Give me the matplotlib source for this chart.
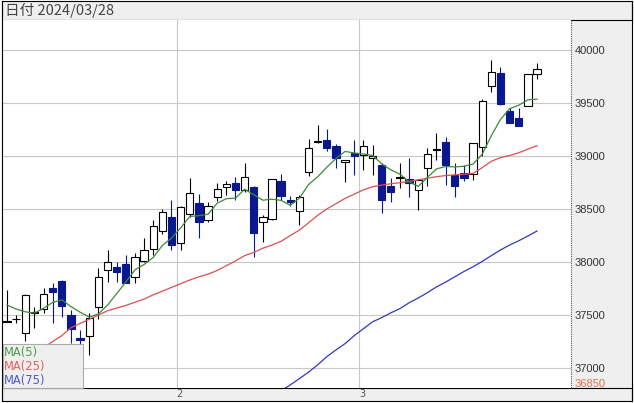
import numpy as np
import matplotlib.pyplot as plt
from matplotlib.patches import Rectangle
from matplotlib.lines import Line2D

# candle data, 2024/01/04 .. 2024/03/28
opens = [37435, 37458, 37333, 37522, 37554, 37752, 37824, 37500, 37283, 37302,
         37578, 37925, 37956, 37978, 37862, 38009, 38123, 38296, 38428, 38183,
         38453, 38554, 38396, 38616, 38710, 38748, 38679, 38705, 38375, 38403,
         38764, 38585, 38484, 38852, 39135, 39151, 39094, 38941, 39025, 39010,
         38984, 38915, 38720, 38792, 38779, 38679, 38890, 39055, 39129, 38820,
         38837, 38830, 39088, 39664, 39786, 39424, 39356, 39472, 39771]
highs = [37735, 37500, 37700, 37578, 37752, 37799, 37830, 37547, 37358, 37516,
         37941, 38113, 38003, 38066, 38082, 38224, 38396, 38500, 38585, 38530,
         38790, 38639, 38569, 38748, 38764, 38805, 38931, 38720, 38440, 38785,
         38830, 38623, 38630, 39158, 39292, 39252, 39110, 38965, 39151, 39151,
         39104, 38935, 38790, 38931, 38978, 38780, 39073, 39214, 39182, 38931,
         38915, 39125, 39535, 39906, 39843, 39456, 39450, 39774, 39880]
lows = [37430, 37420, 37250, 37377, 37518, 37421, 37478, 37233, 37120, 37123,
        37459, 37814, 37814, 37805, 37799, 38000, 38066, 38264, 38113, 38113,
        38420, 38224, 38380, 38578, 38632, 38585, 38660, 38050, 38192, 38400,
        38585, 38528, 38349, 38811, 39120, 39045, 38884, 38752, 38821, 38868,
        38821, 38459, 38569, 38695, 38616, 38490, 38717, 38962, 38726, 38616,
        38760, 38774, 39000, 39607, 39480, 39314, 39286, 39472, 39724]
closes = [37440, 37465, 37689, 37530, 37698, 37714, 37588, 37365, 37264, 37469,
          37862, 38003, 37909, 37805, 38050, 38113, 38340, 38469, 38160, 38522,
          38654, 38381, 38532, 38686, 38733, 38679, 38798, 38277, 38428, 38779,
          38623, 38566, 38616, 39073, 39142, 39073, 38978, 38962, 39000, 39094,
          39003, 38585, 38664, 38798, 38742, 38774, 39016, 39065, 38915, 38720,
          38790, 39120, 39519, 39790, 39488, 39314, 39286, 39774, 39818]

ma5 = [37594, 37556, 37530, 37518, 37563, 37618, 37643, 37579, 37526, 37480,
       37510, 37593, 37701, 37810, 37926, 37976, 38043, 38155, 38226, 38321,
       38429, 38437, 38450, 38555, 38597, 38602, 38686, 38635, 38583, 38592,
       38581, 38535, 38602, 38731, 38804, 38894, 38976, 39043, 39028, 39019,
       39005, 38926, 38869, 38828, 38758, 38712, 38798, 38878, 38901, 38897,
       38903, 38924, 39016, 39191, 39344, 39446, 39479, 39530, 39536]
ma25 = [36980, 37040, 37090, 37140, 37190, 37250, 37305, 37380, 37420, 37460,
        37500, 37540, 37565, 37590, 37620, 37650, 37690, 37725, 37760, 37795,
        37830, 37860, 37885, 37920, 37965, 38010, 38060, 38090, 38130, 38160,
        38195, 38250, 38300, 38370, 38440, 38500, 38550, 38600, 38640, 38680,
        38710, 38725, 38738, 38748, 38760, 38775, 38790, 38805, 38815, 38822,
        38828, 38835, 38890, 38950, 38985, 39005, 39030, 39065, 39097]
ma75 = [np.nan] * 28 + [
        36650, 36720, 36785, 36840, 36900, 36960, 37030, 37107, 37170, 37230,
        37305, 37370, 37435, 37475, 37520, 37560, 37615, 37660, 37710, 37765,
        37810, 37860, 37910, 37955, 38005, 38060, 38113, 38160, 38200, 38245,
        38292]

month_start = [19, 39]
month_labels = ['2', '3']
price_ticks = [37000, 37500, 38000, 38500, 39000, 39500, 40000]
low_mark = 36850
date_text = '日付 2024/03/28'

W, H = 634, 403
def fx(px):
    return px / W
def fy(py):
    return 1 - py / H

fig = plt.figure(figsize=(W / 100, H / 100), dpi=100)
ax = fig.add_axes([fx(3), fy(388), fx(571) - fx(3), fy(20) - fy(388)])

n = len(closes)
x = np.arange(n)
o = np.array(opens); c = np.array(closes)
h = np.array(highs); l = np.array(lows)
up = c >= o
navy = '#0a1890'

# grid
for p in price_ticks:
    ax.axhline(p, color='#c8c8c8', lw=0.8, zorder=0)
for m in month_start:
    ax.axvline(m - 0.45, color='#c8c8c8', lw=0.8, zorder=0)

# wicks
ax.vlines(x[up], l[up], h[up], color='black', lw=0.8, zorder=2)
ax.vlines(x[~up], l[~up], h[~up], color=navy, lw=0.8, zorder=2)
# bodies
bw = 0.8
body = np.abs(c - o)
bottom = np.minimum(c, o)
ax.bar(x[up], body[up], bw, bottom=bottom[up], facecolor='white',
       edgecolor='black', lw=0.8, zorder=3)
ax.bar(x[~up], body[~up], bw, bottom=bottom[~up], facecolor=navy,
       edgecolor=navy, lw=0.8, zorder=3)

# moving averages
ax.plot(x, ma25, color='#dc5050', lw=0.9, zorder=4)
ax.plot(x, ma75, color='#3038c0', lw=0.9, zorder=4)
ax.plot(x, ma5, color='#3c8a3c', lw=0.9, zorder=4)

ax.set_xlim(-0.438, 61.72)
ax.set_ylim(36811, 40283)
ax.set_xticks([])
ax.yaxis.tick_right()
ax.set_yticks(price_ticks)
ax.set_yticklabels([str(p) for p in price_ticks])
ax.tick_params(axis='y', length=0, pad=2.5, labelsize=8, labelcolor='#333333')
for t in ax.get_yticklabels():
    t.set_fontfamily('Liberation Sans')
for s in ax.spines.values():
    s.set_visible(False)
ax.annotate(str(low_mark), xy=(1.0, low_mark), xycoords=ax.get_yaxis_transform(),
            xytext=(2.5, 0), textcoords='offset points', ha='left', va='center',
            fontsize=8, color='#e07050', family='Liberation Sans',
            annotation_clip=False)

# month labels
for m, lab in zip(month_start, month_labels):
    ax.text(m - 0.1, -0.017, lab, transform=ax.get_xaxis_transform(),
            ha='center', va='center', fontsize=7, color='#555555', clip_on=False)

# panels around the plot
gray = '#efefef'
fig.add_artist(Rectangle((fx(571), fy(388)), fx(632) - fx(571), fy(20) - fy(388),
                         transform=fig.transFigure, facecolor=gray, edgecolor='none',
                         zorder=-1))
fig.add_artist(Rectangle((fx(2), fy(20)), fx(632) - fx(2), fy(1) - fy(20),
                         transform=fig.transFigure, facecolor=gray,
                         edgecolor='black', lw=0.8, zorder=-1))
fig.add_artist(Rectangle((fx(2), fy(401)), fx(632) - fx(2), fy(388) - fy(401),
                         transform=fig.transFigure, facecolor=gray,
                         edgecolor='black', lw=0.8, zorder=-1))
fig.add_artist(Line2D([fx(2), fx(2)], [fy(1), fy(401)], color='black', lw=0.8,
                      transform=fig.transFigure))
fig.add_artist(Line2D([fx(632), fx(632)], [fy(1), fy(401)], color='black', lw=0.8,
                      transform=fig.transFigure))
fig.add_artist(Line2D([fx(571), fx(571)], [fy(20), fy(388)], color='#555555',
                      lw=0.8, ls=(0, (1, 1)), transform=fig.transFigure))
fig.text(fx(5), fy(10.5), date_text, ha='left', va='center', fontsize=10.5,
         color='#444444', family=['Noto Sans CJK JP', 'DejaVu Sans'])

# MA legend box
fig.add_artist(Rectangle((fx(3), fy(388)), fx(83) - fx(3), fy(344) - fy(388),
                         transform=fig.transFigure, facecolor=gray, alpha=0.96,
                         edgecolor='#a8a8a8', lw=0.8, zorder=5))
for lab, col, py in [('MA(5)', '#4a9a4a', 352.5), ('MA(25)', '#e06060', 366.5),
                     ('MA(75)', '#5058c8', 380.5)]:
    fig.text(fx(3.5), fy(py), lab, ha='left', va='center', fontsize=8.3,
             color=col, zorder=6)

fig.savefig('out.png', dpi=100)
